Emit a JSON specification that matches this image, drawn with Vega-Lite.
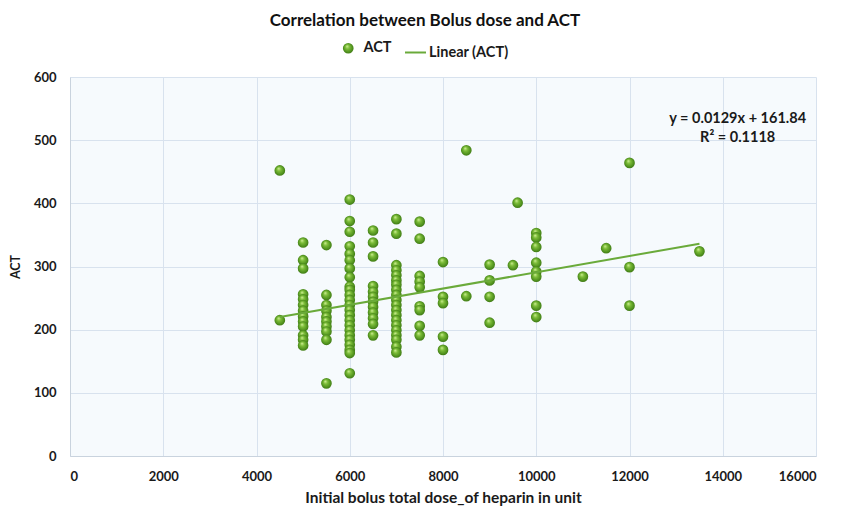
{
  "$schema": "https://vega.github.io/schema/vega-lite/v6.json",
  "width": 746,
  "height": 379,
  "autosize": {"type": "none"},
  "padding": {"left": 70, "top": 77, "right": 25, "bottom": 57},
  "background": "white",
  "title": {
    "text": "Correlation between Bolus dose and ACT",
    "font": "Lato",
    "fontSize": 17,
    "fontWeight": "bold",
    "color": "#111111",
    "anchor": "middle",
    "frame": "group",
    "dx": -18,
    "offset": 11
  },
  "datasets": {
    "points": [
      {"dose": 4500, "act": 452}, {"dose": 4500, "act": 215},
      {"dose": 5000, "act": 338}, {"dose": 5000, "act": 310}, {"dose": 5000, "act": 297}, {"dose": 5000, "act": 256}, {"dose": 5000, "act": 248}, {"dose": 5000, "act": 239}, {"dose": 5000, "act": 230}, {"dose": 5000, "act": 221}, {"dose": 5000, "act": 213}, {"dose": 5000, "act": 205}, {"dose": 5000, "act": 191}, {"dose": 5000, "act": 184}, {"dose": 5000, "act": 175},
      {"dose": 5500, "act": 334}, {"dose": 5500, "act": 255}, {"dose": 5500, "act": 239}, {"dose": 5500, "act": 230}, {"dose": 5500, "act": 220}, {"dose": 5500, "act": 213}, {"dose": 5500, "act": 205}, {"dose": 5500, "act": 197}, {"dose": 5500, "act": 184}, {"dose": 5500, "act": 115},
      {"dose": 6000, "act": 406}, {"dose": 6000, "act": 372}, {"dose": 6000, "act": 355}, {"dose": 6000, "act": 332}, {"dose": 6000, "act": 320}, {"dose": 6000, "act": 310}, {"dose": 6000, "act": 297}, {"dose": 6000, "act": 283}, {"dose": 6000, "act": 268}, {"dose": 6000, "act": 263}, {"dose": 6000, "act": 255}, {"dose": 6000, "act": 247}, {"dose": 6000, "act": 239}, {"dose": 6000, "act": 231}, {"dose": 6000, "act": 223}, {"dose": 6000, "act": 215}, {"dose": 6000, "act": 207}, {"dose": 6000, "act": 199}, {"dose": 6000, "act": 191}, {"dose": 6000, "act": 184}, {"dose": 6000, "act": 176}, {"dose": 6000, "act": 168}, {"dose": 6000, "act": 163}, {"dose": 6000, "act": 131},
      {"dose": 6500, "act": 357}, {"dose": 6500, "act": 338}, {"dose": 6500, "act": 316}, {"dose": 6500, "act": 269}, {"dose": 6500, "act": 260}, {"dose": 6500, "act": 252}, {"dose": 6500, "act": 244}, {"dose": 6500, "act": 236}, {"dose": 6500, "act": 227}, {"dose": 6500, "act": 218}, {"dose": 6500, "act": 209}, {"dose": 6500, "act": 191},
      {"dose": 7000, "act": 375}, {"dose": 7000, "act": 352}, {"dose": 7000, "act": 302}, {"dose": 7000, "act": 294}, {"dose": 7000, "act": 286}, {"dose": 7000, "act": 278}, {"dose": 7000, "act": 271}, {"dose": 7000, "act": 263}, {"dose": 7000, "act": 255}, {"dose": 7000, "act": 247}, {"dose": 7000, "act": 239}, {"dose": 7000, "act": 231}, {"dose": 7000, "act": 223}, {"dose": 7000, "act": 215}, {"dose": 7000, "act": 207}, {"dose": 7000, "act": 199}, {"dose": 7000, "act": 191}, {"dose": 7000, "act": 184}, {"dose": 7000, "act": 173}, {"dose": 7000, "act": 164},
      {"dose": 7500, "act": 371}, {"dose": 7500, "act": 344}, {"dose": 7500, "act": 285}, {"dose": 7500, "act": 276}, {"dose": 7500, "act": 267}, {"dose": 7500, "act": 237}, {"dose": 7500, "act": 231}, {"dose": 7500, "act": 206}, {"dose": 7500, "act": 191},
      {"dose": 8000, "act": 307}, {"dose": 8000, "act": 252}, {"dose": 8000, "act": 242}, {"dose": 8000, "act": 189}, {"dose": 8000, "act": 168},
      {"dose": 8500, "act": 484}, {"dose": 8500, "act": 253},
      {"dose": 9000, "act": 303}, {"dose": 9000, "act": 278}, {"dose": 9000, "act": 252}, {"dose": 9000, "act": 211},
      {"dose": 9500, "act": 302}, {"dose": 9600, "act": 401},
      {"dose": 10000, "act": 353}, {"dose": 10000, "act": 346}, {"dose": 10000, "act": 331}, {"dose": 10000, "act": 306}, {"dose": 10000, "act": 292}, {"dose": 10000, "act": 284}, {"dose": 10000, "act": 238}, {"dose": 10000, "act": 220},
      {"dose": 11000, "act": 284}, {"dose": 11500, "act": 329},
      {"dose": 12000, "act": 464}, {"dose": 12000, "act": 299}, {"dose": 12000, "act": 238},
      {"dose": 13500, "act": 324}
    ],
    "trend": [
      {"dose": 4500, "act": 219.9},
      {"dose": 13500, "act": 336.0}
    ],
    "note": [
      {"dose": 14320, "act": 533, "label": "y = 0.0129x + 161.84\nR² = 0.1118"}
    ]
  },
  "config": {
    "view": {"fill": "#f6fafd", "stroke": null},
    "font": "Lato",
    "axis": {
      "labelFont": "Lato",
      "labelFontWeight": "bold",
      "labelFontSize": 13,
      "labelColor": "#1a1a1a",
      "titleFont": "Lato",
      "titleFontWeight": "bold",
      "titleColor": "#1a1a1a",
      "gridColor": "#d8e2ee",
      "gridWidth": 1,
      "domainColor": "#c9d3de",
      "ticks": false
    },
    "legend": {
      "labelFont": "Lato",
      "labelFontWeight": "bold",
      "labelFontSize": 14.5,
      "labelColor": "#1a1a1a",
      "padding": 0
    }
  },
  "resolve": {"legend": {"color": "independent", "shape": "independent"}},
  "layer": [
    {
      "data": {"name": "points"},
      "mark": {
        "type": "point",
        "filled": true,
        "size": 115,
        "opacity": 1,
        "fill": {
          "gradient": "radial",
          "x1": 0.38, "y1": 0.3, "r1": 0,
          "x2": 0.5, "y2": 0.5, "r2": 0.55,
          "stops": [
            {"offset": 0, "color": "#d4f29c"},
            {"offset": 0.35, "color": "#7cbd38"},
            {"offset": 0.8, "color": "#4c8d1c"},
            {"offset": 1, "color": "#3a6e12"}
          ]
        }
      },
      "encoding": {
        "x": {
          "field": "dose", "type": "quantitative",
          "scale": {"domain": [0, 16000], "nice": false},
          "axis": {"values": [0, 2000, 4000, 6000, 8000, 10000, 12000, 14000, 16000], "format": "d", "labelPadding": 14, "titlePadding": 7, "titleFontSize": 15.5,
                   "title": "Initial bolus total dose_of heparin in unit"}
        },
        "y": {
          "field": "act", "type": "quantitative",
          "scale": {"domain": [0, 600], "nice": false},
          "axis": {"values": [0, 100, 200, 300, 400, 500, 600], "labelPadding": 14, "titlePadding": 11, "titleFontSize": 12.5, "title": "ACT"}
        },
        "shape": {
          "datum": "ACT",
          "type": "nominal",
          "scale": {"domain": ["ACT"], "range": ["circle"]},
          "legend": {
            "title": null,
            "orient": "none",
            "legendX": 271,
            "legendY": -36,
            "symbolSize": 115,
            "labelOffset": 8
          }
        }
      }
    },
    {
      "data": {"name": "trend"},
      "mark": {"type": "line", "strokeWidth": 2},
      "encoding": {
        "x": {"field": "dose", "type": "quantitative"},
        "y": {"field": "act", "type": "quantitative"},
        "color": {
          "datum": "Linear (ACT)",
          "type": "nominal",
          "scale": {"domain": ["Linear (ACT)"], "range": ["#6aaa3a"]},
          "legend": {
            "title": null,
            "orient": "none",
            "legendX": 334,
            "legendY": -36,
            "symbolType": "stroke",
            "symbolSize": 441,
            "symbolStrokeWidth": 2,
            "labelOffset": 2
          }
        }
      }
    },
    {
      "data": {"name": "note"},
      "mark": {"type": "text", "font": "Lato", "fontWeight": "bold", "fontSize": 14.5, "color": "#1a1a1a", "lineBreak": "\n", "align": "center", "baseline": "middle", "lineHeight": 19},
      "encoding": {
        "x": {"field": "dose", "type": "quantitative"},
        "y": {"field": "act", "type": "quantitative"},
        "text": {"field": "label"}
      }
    }
  ]
}
